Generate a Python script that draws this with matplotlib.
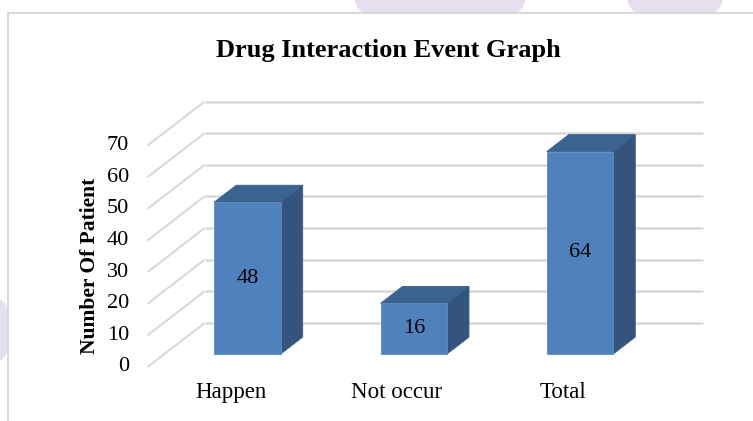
import matplotlib
matplotlib.use('Agg')
import matplotlib.pyplot as plt
from matplotlib.patches import Polygon, Rectangle, Ellipse

plt.rcParams['font.family'] = ['Liberation Serif', 'DejaVu Serif']

# ---------------------------------------------------------------
# Data
# ---------------------------------------------------------------
categories = ['Happen', 'Not occur', 'Total']
values     = [48, 16, 64]
yticks     = [0, 10, 20, 30, 40, 50, 60, 70]

# ---------------------------------------------------------------
# Pseudo 3-D geometry (Excel style column chart)
# ---------------------------------------------------------------
DX, DY   = 0.343, 13.9      # full depth offset in (category, value) units
F0, F1   = 0.295, 0.68      # bar front / back depth fraction
HALF_W   = 0.20             # half bar width (category units)

front_c = '#4F81BD'
top_c   = '#3C6390'
side_c  = '#34547E'
grid_c  = '#D9D9D9'

fig = plt.figure(figsize=(7.53, 4.21), dpi=100)

# faint page watermark behind the chart box
wm = '#E6E0EE'
for (cx, cy, w, h) in [(440, 0, 170, 60), (675, 0, 95, 45), (0, 330, 20, 60)]:
    fig.patches.append(Ellipse((cx / 753, 1 - cy / 421), w / 753, h / 421,
                               transform=fig.transFigure, facecolor=wm,
                               edgecolor='none', zorder=-2))
# chart box
fig.patches.append(Rectangle((8 / 753, -0.1), 1.2, 1 - 13 / 421 + 0.1,
                             transform=fig.transFigure, facecolor='white',
                             edgecolor='#D9D9D9', linewidth=1.5, zorder=-1))

ax = fig.add_axes([0, 0, 1, 1])
ax.set_xlim(-1.387, 3.141)
ax.set_ylim(-17.07, 116.0)
ax.axis('off')

# grid: side wall diagonals + back wall lines
x_left, x_right = -0.5, len(categories) - 0.5
for v in yticks:
    ax.plot([x_left, x_left + DX], [v, v + DY], color=grid_c, lw=1.5,
            solid_capstyle='butt', zorder=1)
    ax.plot([x_left + DX, x_right + DX], [v + DY, v + DY], color=grid_c,
            lw=1.8, solid_capstyle='butt', zorder=1)
    ax.text(x_left - 0.11, v, str(v), ha='right', va='center', fontsize=16)

# bars
for i, (cat, val) in enumerate(zip(categories, values)):
    l, r = i - HALF_W, i + HALF_W
    fx0, fy0 = F0 * DX, F0 * DY
    fx1, fy1 = F1 * DX, F1 * DY
    side = Polygon([(r + fx0, fy0), (r + fx1, fy1), (r + fx1, val + fy1),
                    (r + fx0, val + fy0)], closed=True, facecolor=side_c,
                   edgecolor='#3A5E8C', lw=0.6, zorder=3)
    top = Polygon([(l + fx0, val + fy0), (r + fx0, val + fy0),
                   (r + fx1, val + fy1), (l + fx1, val + fy1)], closed=True,
                  facecolor=top_c, edgecolor='#3A5E8C', lw=0.6, zorder=3)
    front = Polygon([(l + fx0, fy0), (r + fx0, fy0), (r + fx0, val + fy0),
                     (l + fx0, val + fy0)], closed=True, facecolor=front_c,
                    edgecolor='#5B8AC2', lw=0.6, zorder=4)
    for p in (side, top, front):
        ax.add_patch(p)
    ax.text(i + fx0, fy0 + val / 2, str(val), ha='center', va='center',
            fontsize=16, zorder=5)
    ax.text(i, -8.2, cat, ha='center', va='center', fontsize=16.5)

fig.text(388 / 753, 1 - 51 / 421, 'Drug Interaction Event Graph',
         ha='center', va='center', fontsize=19, fontweight='bold')
fig.text(90 / 753, 1 - 266 / 421, 'Number Of Patient', rotation=90,
         ha='center', va='center', fontsize=15.5, fontweight='bold')

fig.savefig('out.png', dpi=100)
